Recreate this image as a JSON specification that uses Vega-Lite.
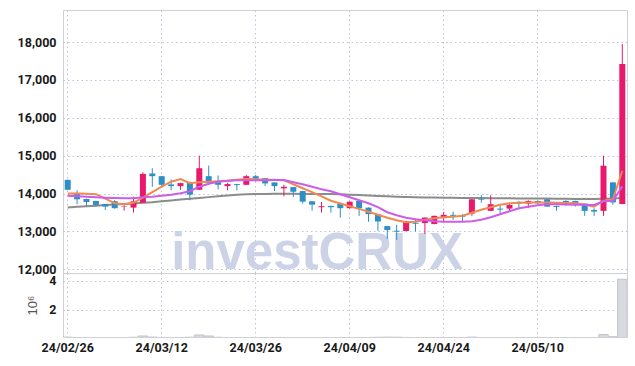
{
  "$schema": "https://vega.github.io/schema/vega-lite/v6.json",
  "padding": {"left": 5, "top": 9, "right": 8, "bottom": 5},
  "spacing": 0,
  "bounds": "flush",
  "data": {"values": [
    {"d":"24/02/26","o":14361,"h":14365,"l":14095,"c":14099,"v":120000,"ma5":14003,"ma10":13942,"ma20":13634},
    {"d":"24/02/27","o":13995,"h":14084,"l":13717,"c":13848,"v":95000,"ma5":14003,"ma10":13929,"ma20":13650},
    {"d":"24/02/28","o":13856,"h":13866,"l":13673,"c":13777,"v":80000,"ma5":13995,"ma10":13916,"ma20":13665},
    {"d":"24/02/29","o":13804,"h":13810,"l":13654,"c":13699,"v":70000,"ma5":13982,"ma10":13903,"ma20":13680},
    {"d":"24/03/04","o":13725,"h":13730,"l":13568,"c":13654,"v":75000,"ma5":13863,"ma10":13890,"ma20":13695},
    {"d":"24/03/05","o":13796,"h":13830,"l":13600,"c":13613,"v":90000,"ma5":13744,"ma10":13882,"ma20":13710},
    {"d":"24/03/06","o":13660,"h":13691,"l":13550,"c":13670,"v":60000,"ma5":13718,"ma10":13876,"ma20":13725},
    {"d":"24/03/07","o":13628,"h":13916,"l":13497,"c":13796,"v":110000,"ma5":13758,"ma10":13876,"ma20":13740},
    {"d":"24/03/08","o":13759,"h":14563,"l":13750,"c":14518,"v":200000,"ma5":13890,"ma10":13903,"ma20":13755},
    {"d":"24/03/11","o":14529,"h":14668,"l":14178,"c":14458,"v":125000,"ma5":14035,"ma10":13916,"ma20":13771},
    {"d":"24/03/12","o":14458,"h":14462,"l":14178,"c":14230,"v":100000,"ma5":14180,"ma10":13942,"ma20":13795},
    {"d":"24/03/13","o":14240,"h":14372,"l":14084,"c":14196,"v":80000,"ma5":14312,"ma10":13969,"ma20":13818},
    {"d":"24/03/14","o":14196,"h":14283,"l":14100,"c":14275,"v":70000,"ma5":14383,"ma10":14008,"ma20":13840},
    {"d":"24/03/15","o":14301,"h":14310,"l":13822,"c":13969,"v":115000,"ma5":14272,"ma10":14061,"ma20":13862},
    {"d":"24/03/18","o":14100,"h":15000,"l":14095,"c":14668,"v":270000,"ma5":14299,"ma10":14180,"ma20":13882},
    {"d":"24/03/19","o":14458,"h":14738,"l":14230,"c":14283,"v":200000,"ma5":14312,"ma10":14259,"ma20":13905},
    {"d":"24/03/20","o":14301,"h":14476,"l":14110,"c":14230,"v":110000,"ma5":14325,"ma10":14312,"ma20":13925},
    {"d":"24/03/21","o":14196,"h":14283,"l":14084,"c":14249,"v":70000,"ma5":14338,"ma10":14338,"ma20":13945},
    {"d":"24/03/22","o":14249,"h":14255,"l":14084,"c":14222,"v":60000,"ma5":14365,"ma10":14352,"ma20":13965},
    {"d":"24/03/25","o":14230,"h":14492,"l":14225,"c":14458,"v":95000,"ma5":14383,"ma10":14352,"ma20":13982},
    {"d":"24/03/26","o":14458,"h":14492,"l":14319,"c":14387,"v":85000,"ma5":14378,"ma10":14352,"ma20":13987},
    {"d":"24/03/27","o":14406,"h":14410,"l":14196,"c":14267,"v":70000,"ma5":14365,"ma10":14352,"ma20":13990},
    {"d":"24/03/28","o":14293,"h":14300,"l":14065,"c":14196,"v":75000,"ma5":14365,"ma10":14357,"ma20":13992},
    {"d":"24/03/29","o":14136,"h":14230,"l":13927,"c":14178,"v":65000,"ma5":14352,"ma10":14357,"ma20":13992},
    {"d":"24/04/01","o":14170,"h":14175,"l":13908,"c":14047,"v":70000,"ma5":14246,"ma10":14299,"ma20":13992},
    {"d":"24/04/02","o":14065,"h":14070,"l":13733,"c":13785,"v":90000,"ma5":14140,"ma10":14246,"ma20":13990},
    {"d":"24/04/03","o":13796,"h":13800,"l":13550,"c":13707,"v":85000,"ma5":14035,"ma10":14180,"ma20":13990},
    {"d":"24/04/04","o":13639,"h":13777,"l":13497,"c":13665,"v":80000,"ma5":13924,"ma10":14114,"ma20":13988},
    {"d":"24/04/05","o":13673,"h":13680,"l":13497,"c":13639,"v":60000,"ma5":13810,"ma10":14061,"ma20":13986},
    {"d":"24/04/08","o":13743,"h":13750,"l":13366,"c":13613,"v":95000,"ma5":13737,"ma10":13982,"ma20":13982},
    {"d":"24/04/09","o":13613,"h":13790,"l":13605,"c":13785,"v":75000,"ma5":13665,"ma10":13903,"ma20":13970},
    {"d":"24/04/11","o":13804,"h":13810,"l":13411,"c":13613,"v":90000,"ma5":13594,"ma10":13824,"ma20":13958},
    {"d":"24/04/12","o":13628,"h":13635,"l":13254,"c":13455,"v":100000,"ma5":13520,"ma10":13744,"ma20":13946},
    {"d":"24/04/15","o":13455,"h":13460,"l":13018,"c":13262,"v":110000,"ma5":13441,"ma10":13639,"ma20":13935},
    {"d":"24/04/16","o":13141,"h":13145,"l":12801,"c":13037,"v":120000,"ma5":13362,"ma10":13507,"ma20":13925},
    {"d":"24/04/17","o":13018,"h":13175,"l":12775,"c":12992,"v":115000,"ma5":13296,"ma10":13428,"ma20":13916},
    {"d":"24/04/18","o":13010,"h":13280,"l":13005,"c":13272,"v":100000,"ma5":13243,"ma10":13362,"ma20":13908},
    {"d":"24/04/19","o":13228,"h":13340,"l":13000,"c":13202,"v":80000,"ma5":13256,"ma10":13322,"ma20":13900},
    {"d":"24/04/22","o":13220,"h":13370,"l":12932,"c":13366,"v":95000,"ma5":13309,"ma10":13296,"ma20":13895},
    {"d":"24/04/23","o":13194,"h":13415,"l":13190,"c":13411,"v":85000,"ma5":13348,"ma10":13269,"ma20":13892},
    {"d":"24/04/24","o":13366,"h":13516,"l":13262,"c":13437,"v":70000,"ma5":13375,"ma10":13256,"ma20":13890},
    {"d":"24/04/25","o":13437,"h":13523,"l":13306,"c":13411,"v":55000,"ma5":13388,"ma10":13256,"ma20":13888},
    {"d":"24/04/26","o":13405,"h":13456,"l":13272,"c":13385,"v":60000,"ma5":13414,"ma10":13256,"ma20":13885},
    {"d":"24/04/29","o":13471,"h":13855,"l":13411,"c":13848,"v":125000,"ma5":13494,"ma10":13269,"ma20":13882},
    {"d":"24/04/30","o":13848,"h":13953,"l":13759,"c":13830,"v":80000,"ma5":13573,"ma10":13309,"ma20":13880},
    {"d":"24/05/02","o":13542,"h":13953,"l":13540,"c":13717,"v":90000,"ma5":13639,"ma10":13375,"ma20":13878},
    {"d":"24/05/03","o":13602,"h":13691,"l":13482,"c":13576,"v":60000,"ma5":13705,"ma10":13454,"ma20":13876},
    {"d":"24/05/07","o":13602,"h":13717,"l":13516,"c":13699,"v":55000,"ma5":13744,"ma10":13533,"ma20":13874},
    {"d":"24/05/08","o":13778,"h":13804,"l":13586,"c":13733,"v":50000,"ma5":13758,"ma10":13612,"ma20":13872},
    {"d":"24/05/09","o":13733,"h":13822,"l":13613,"c":13804,"v":60000,"ma5":13763,"ma10":13652,"ma20":13871},
    {"d":"24/05/10","o":13804,"h":13810,"l":13717,"c":13743,"v":55000,"ma5":13766,"ma10":13692,"ma20":13870},
    {"d":"24/05/13","o":13848,"h":13855,"l":13650,"c":13654,"v":65000,"ma5":13766,"ma10":13718,"ma20":13866},
    {"d":"24/05/14","o":13673,"h":13680,"l":13542,"c":13647,"v":60000,"ma5":13758,"ma10":13718,"ma20":13862},
    {"d":"24/05/16","o":13804,"h":13822,"l":13673,"c":13743,"v":50000,"ma5":13752,"ma10":13713,"ma20":13859},
    {"d":"24/05/17","o":13804,"h":13810,"l":13654,"c":13717,"v":45000,"ma5":13744,"ma10":13705,"ma20":13857},
    {"d":"24/05/20","o":13733,"h":13740,"l":13411,"c":13542,"v":70000,"ma5":13705,"ma10":13705,"ma20":13855},
    {"d":"24/05/21","o":13568,"h":13613,"l":13411,"c":13524,"v":65000,"ma5":13652,"ma10":13697,"ma20":13858},
    {"d":"24/05/22","o":13542,"h":14998,"l":13411,"c":14734,"v":300000,"ma5":13810,"ma10":13797,"ma20":13865},
    {"d":"24/05/23","o":14294,"h":14300,"l":13705,"c":13766,"v":150000,"ma5":13850,"ma10":13810,"ma20":13872},
    {"d":"24/05/24","o":13723,"h":17947,"l":13715,"c":17419,"v":4100000,"ma5":14602,"ma10":14193,"ma20":13880}
  ]},
  "vconcat": [
    {
      "width": 564,
      "height": 263,
      "encoding": {
        "x": {
          "field": "d", "type": "ordinal", "sort": null,
          "scale": {"paddingInner": 0, "paddingOuter": 0},
          "axis": {"values": ["24/02/26","24/03/12","24/03/26","24/04/09","24/04/24","24/05/10"], "labels": false, "title": null, "grid": true, "bandPosition": 0.5, "minExtent": 0, "maxExtent": 0, "labelPadding": 0}
        }
      },
      "layer": [
        {
          "mark": {"type": "text", "font": "Liberation Sans", "fontWeight": "bold", "fontSize": 51, "color": "#cdd3e6", "baseline": "alphabetic", "align": "center", "dx": 5},
          "encoding": {
            "y": {"datum": 12000, "type": "quantitative"},
            "text": {"condition": {"test": "datum.d == '24/04/03'", "value": "investCRUX"}, "value": ""}
          }
        },
        {
          "mark": {"type": "line", "strokeWidth": 2, "color": "#8c8c8c"},
          "encoding": {
            "y": {"field": "ma20", "type": "quantitative",
              "scale": {"domain": [11902, 18845], "nice": false, "zero": false},
              "axis": {"values": [12000,13000,14000,15000,16000,17000,18000], "format": ",d", "title": null, "labelPadding": 7, "minExtent": 57, "maxExtent": 57, "grid": true}}
          }
        },
        {
          "mark": {"type": "rule", "strokeWidth": 1},
          "encoding": {
            "y": {"field": "l", "type": "quantitative"},
            "y2": {"field": "h"},
            "color": {"condition": {"test": "datum.c > datum.o", "value": "#e8196b"}, "value": "#2e8ec6"}
          }
        },
        {
          "mark": {"type": "bar", "size": 6},
          "encoding": {
            "y": {"field": "o", "type": "quantitative"},
            "y2": {"field": "c"},
            "color": {"condition": {"test": "datum.c > datum.o", "value": "#e8196b"}, "value": "#2e8ec6"}
          }
        },
        {
          "mark": {"type": "line", "strokeWidth": 2, "color": "#ef8a50"},
          "encoding": {"y": {"field": "ma5", "type": "quantitative"}}
        },
        {
          "mark": {"type": "line", "strokeWidth": 2, "color": "#cc5de8"},
          "encoding": {"y": {"field": "ma10", "type": "quantitative"}}
        }
      ]
    },
    {
      "width": 564,
      "height": 64,
      "mark": {"type": "bar", "fill": "#d9d9e0", "stroke": "#c4c4cc", "strokeWidth": 1, "clip": true},
      "encoding": {
        "x": {
          "field": "d", "type": "ordinal", "sort": null,
          "scale": {"paddingInner": 0, "paddingOuter": 0},
          "axis": {"values": ["24/02/26","24/03/12","24/03/26","24/04/09","24/04/24","24/05/10"], "title": null, "labelAngle": 0, "labelPadding": 4, "grid": true, "bandPosition": 0.5}
        },
        "y": {
          "field": "v", "type": "quantitative",
          "scale": {"domain": [130000, 4530000], "nice": false, "zero": false},
          "axis": {"values": [2000000, 4000000], "labelExpr": "datum.value / 1000000", "title": "10⁶", "titleFontSize": 13, "titleFontWeight": "normal", "titleColor": "#555555", "titleFont": "Liberation Sans", "titlePadding": 9, "labelPadding": 7, "minExtent": 15, "maxExtent": 15, "grid": true}
        }
      }
    }
  ],
  "config": {
    "view": {"stroke": "#cfcfd6"},
    "axis": {
      "gridColor": "#bcc3dc", "gridDash": [1.5, 3], "gridWidth": 1,
      "labelFont": "Roboto", "labelFontSize": 12.5, "labelFontWeight": "bold", "labelColor": "#1a1a1a",
      "ticks": false, "domain": false
    }
  }
}
